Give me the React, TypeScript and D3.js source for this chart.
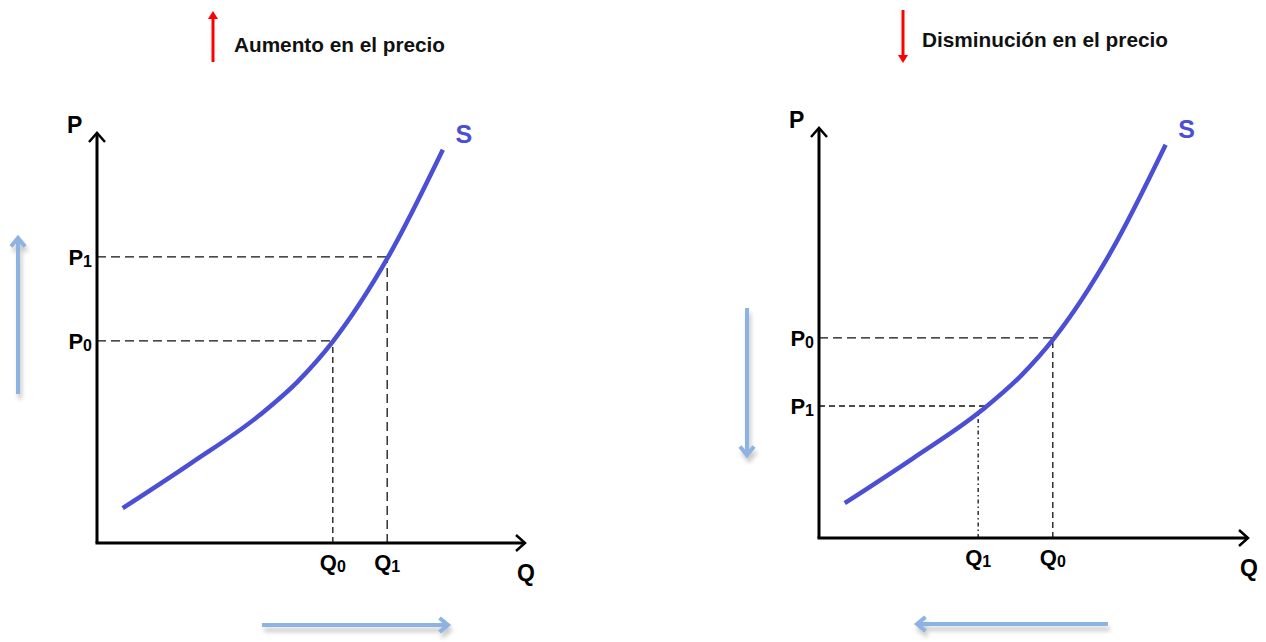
import React from "react";
import * as d3 from "d3";

// Supply curve S (same curve in both panels), in abstract units Q, P
const curveQ = [0.6, 2.2, 3.8, 4.7, 5.5, 6.8, 8.08];
const curveP = [0.85, 1.95, 3.12, 3.95, 4.9, 6.97, 9.59];

// Panel 1: price increase
const leftPriceLabels = ["P1", "P0"];
const leftPriceValues = [6.98, 4.93];
const leftQtyLabels = ["Q0", "Q1"];
const leftQtyValues = [5.51, 6.78];

// Panel 2: price decrease
const rightPriceLabels = ["P0", "P1"];
const rightPriceValues = [4.88, 3.22];
const rightQtyLabels = ["Q1", "Q0"];
const rightQtyValues = [3.71, 5.45];

const titles = ["Aumento en el precio", "Disminución en el precio"];

const FONT = "'Liberation Sans', Arial, sans-serif";
const BLUE = "#4a4fd6";
const LIGHT = "#8db3e2";

type PanelProps = {
  x0: number; x1: number; y0: number; y1: number;
  pLabels: string[]; pValues: number[]; qLabels: string[]; qValues: number[];
  dashH: string[]; dashV: string[];
};

function interpP(q: number) {
  return d3.scaleLinear().domain(curveQ).range(curveP)(q);
}
function interpQ(p: number) {
  return d3.scaleLinear().domain(curveP).range(curveQ)(p);
}

function Label({ x, y, text, anchor }: { x: number; y: number; text: string; anchor: string }) {
  return (
    <text x={x} y={y} textAnchor={anchor} fontFamily={FONT} fontWeight="bold" fontSize={22} fill="#000">
      {text[0]}
      {text.length > 1 && <tspan fontSize={16} dy={2}>{text.slice(1)}</tspan>}
    </text>
  );
}

function Panel(props: PanelProps) {
  const { x0, x1, y0, y1 } = props;
  const xs = d3.scaleLinear().domain([0, 10]).range([x0, x1]);
  const ys = d3.scaleLinear().domain([0, 10]).range([y0, y1]);
  const pts: [number, number][] = curveQ.map((q, i) => [q, curveP[i]]);
  const line = d3.line<[number, number]>().x(d => xs(d[0])).y(d => ys(d[1])).curve(d3.curveMonotoneX);
  const pathD = line(pts) || "";
  const axEndX = xs(10);
  const axTopY = ys(10);
  const endX = xs(curveQ[curveQ.length - 1]);
  const endY = ys(curveP[curveP.length - 1]);
  return (
    <g>
      {/* dashed guides */}
      {props.pValues.map((p, i) => (
        <line key={"h" + i} x1={xs(0)} x2={xs(interpQ(p))} y1={ys(p)} y2={ys(p)}
          stroke="#111" strokeWidth={1.3} strokeDasharray={props.dashH[i]} />
      ))}
      {props.qValues.map((q, i) => (
        <line key={"v" + i} x1={xs(q)} x2={xs(q)} y1={ys(0)} y2={ys(interpP(q))}
          stroke="#111" strokeWidth={1.3} strokeDasharray={props.dashV[i]} />
      ))}
      {/* axes */}
      <line x1={xs(0)} y1={ys(0)} x2={xs(0)} y2={axTopY} stroke="#000" strokeWidth={3} />
      <line x1={xs(0) - 1.5} y1={ys(0)} x2={axEndX} y2={ys(0)} stroke="#000" strokeWidth={3} />
      <polyline points={`${xs(0) - 8},${axTopY + 9} ${xs(0)},${axTopY} ${xs(0) + 8},${axTopY + 9}`}
        fill="none" stroke="#000" strokeWidth={2.5} />
      <polyline points={`${axEndX - 9},${ys(0) - 8} ${axEndX},${ys(0)} ${axEndX - 9},${ys(0) + 8}`}
        fill="none" stroke="#000" strokeWidth={2.5} />
      {/* curve */}
      <path d={pathD} fill="none" stroke={BLUE} strokeWidth={4.5} strokeLinecap="butt" />
      <text x={endX + 21} y={endY - 7} fontFamily={FONT} fontWeight="bold" fontSize={25} fill={BLUE}
        textAnchor="middle">S</text>
      {/* axis names */}
      <text x={xs(0) - 30} y={axTopY} fontFamily={FONT} fontWeight="bold" fontSize={23} fill="#000">P</text>
      <text x={axEndX - 8} y={ys(0) + 38} fontFamily={FONT} fontWeight="bold" fontSize={23} fill="#000">Q</text>
      {/* price labels */}
      {props.pLabels.map((l, i) => (
        <Label key={"pl" + i} x={xs(0) - 5} y={ys(props.pValues[i]) + 8} text={l} anchor="end" />
      ))}
      {props.qLabels.map((l, i) => (
        <Label key={"ql" + i} x={xs(props.qValues[i])} y={ys(0) + 27} text={l} anchor="middle" />
      ))}
    </g>
  );
}

function BlueArrow({ x1, y1, x2, y2 }: { x1: number; y1: number; x2: number; y2: number }) {
  const ang = Math.atan2(y2 - y1, x2 - x1);
  const h = 11;
  const a1 = ang + Math.PI * 0.78, a2 = ang - Math.PI * 0.78;
  const head = `${x2 + h * Math.cos(a1)},${y2 + h * Math.sin(a1)} ${x2},${y2} ${x2 + h * Math.cos(a2)},${y2 + h * Math.sin(a2)}`;
  return (
    <g>
      <g transform="translate(2,5)" opacity={0.35} filter="url(#blur)">
        <line x1={x1} y1={y1} x2={x2} y2={y2} stroke="#666" strokeWidth={4} />
        <polyline points={head} fill="none" stroke="#666" strokeWidth={4} />
      </g>
      <line x1={x1} y1={y1} x2={x2} y2={y2} stroke={LIGHT} strokeWidth={4} />
      <polyline points={head} fill="none" stroke={LIGHT} strokeWidth={4} strokeLinejoin="miter" />
    </g>
  );
}

function RedArrow({ x, yFrom, yTo }: { x: number; yFrom: number; yTo: number }) {
  const dir = yTo < yFrom ? -1 : 1;
  return (
    <g>
      <line x1={x - 5} y1={yFrom} x2={x - 5} y2={yTo} stroke="#888" strokeWidth={4} opacity={0.5} filter="url(#blur)" />
      <line x1={x} y1={yFrom} x2={x} y2={yTo - dir * 6} stroke="#f00" strokeWidth={3} />
      <polygon points={`${x - 5},${yTo - dir * 8} ${x},${yTo} ${x + 5},${yTo - dir * 8}`} fill="#f00" />
    </g>
  );
}

export default function App() {
  return (
    <svg width={1266} height={642} style={{ position: "absolute", left: 0, top: 0, background: "#fff" }}>
      <defs>
        <filter id="blur" x="-50%" y="-50%" width="200%" height="200%">
          <feGaussianBlur stdDeviation="2" />
        </filter>
      </defs>
      <rect width={1266} height={642} fill="#fff" />
      {/* titles */}
      <RedArrow x={213} yFrom={62} yTo={11} />
      <text x={234} y={52} fontFamily={FONT} fontWeight="bold" fontSize={21} fill="#111" textLength={211}
        lengthAdjust="spacingAndGlyphs">{titles[0]}</text>
      <RedArrow x={903} yFrom={10} yTo={63} />
      <text x={922} y={47} fontFamily={FONT} fontWeight="bold" fontSize={21} fill="#111" textLength={246}
        lengthAdjust="spacingAndGlyphs">{titles[1]}</text>

      <Panel x0={97} x1={525} y0={543} y1={133}
        pLabels={leftPriceLabels} pValues={leftPriceValues} qLabels={leftQtyLabels} qValues={leftQtyValues}
        dashH={["9,5", "9,5"]} dashV={["6,4", "9,5"]} />
      <Panel x0={819} x1={1248} y0={538} y1={128}
        pLabels={rightPriceLabels} pValues={rightPriceValues} qLabels={rightQtyLabels} qValues={rightQtyValues}
        dashH={["9,5", "6,4"]} dashV={["4,3,1.5,3", "6,4"]} />

      <BlueArrow x1={18} y1={394} x2={18} y2={238} />
      <BlueArrow x1={747} y1={308} x2={747} y2={455} />
      <BlueArrow x1={262} y1={625} x2={448} y2={625} />
      <BlueArrow x1={1108} y1={624} x2={917} y2={624} />
    </svg>
  );
}
